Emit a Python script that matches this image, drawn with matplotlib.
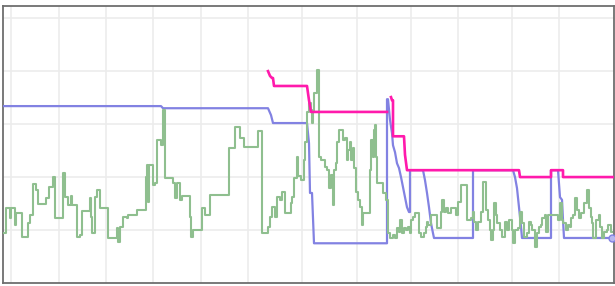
import numpy as np
import matplotlib.pyplot as plt

# green series (step, value holds until next x)
green_x = [4, 6, 10, 11, 15, 16, 22, 28, 30, 33, 36, 38, 46, 49, 53, 55, 63, 65, 68, 71,
           72, 77, 80, 82, 90, 91, 92, 95, 97, 100, 108, 117, 118, 120, 123, 127, 128, 137,
           146, 147, 148, 149, 153, 155, 157, 161, 163, 165, 173, 175, 177, 180, 182, 190,
           191, 193, 202, 205, 210, 229, 235, 240, 244, 258, 262, 268, 270, 272, 275, 277,
           280, 282, 285, 291, 292, 294, 297, 298, 301, 304, 305, 307, 309, 311, 312, 313,
           314, 317, 319, 321, 325, 327, 329, 331, 333, 334, 336, 337, 339, 343, 345, 347,
           348, 350, 351, 353, 354, 356, 358, 360, 362, 363, 370, 371, 373, 374, 375, 376,
           377, 383, 386, 388, 390, 393, 395, 397, 399, 400, 402, 404, 406, 408, 410, 411,
           413, 415, 419, 421, 424, 426, 427, 428, 431, 437, 441, 442, 444, 446, 448, 451,
           456, 458, 461, 467, 471, 473, 474, 476, 478, 481, 483, 486, 488, 490, 491, 493,
           494, 496, 497, 500, 502, 505, 507, 509, 512, 513, 515, 518, 520, 522, 524, 527,
           529, 531, 532, 535, 537, 539, 541, 542, 545, 546, 548, 558, 560, 562, 563, 566,
           568, 570, 571, 573, 575, 577, 579, 581, 584, 587, 589, 591, 592, 593, 596, 599,
           600, 602, 604, 607, 608, 611, 612]
green_v = [9.4, 14.2, 12.3, 14.2, 10.9, 13.2, 8.7, 11.3, 12.8, 18.7, 17.5, 14.9, 16.0, 18.1,
           20.0, 12.3, 20.8, 16.2, 14.7, 16.4, 14.7, 8.7, 9.1, 13.6, 16.0, 12.5, 9.4, 16.2,
           17.5, 14.2, 8.5, 10.4, 7.7, 10.6, 12.5, 12.3, 12.8, 13.8, 20.0, 22.3, 15.3, 22.3,
           18.5, 18.9, 27.0, 26.0, 32.6, 19.8, 18.9, 16.0, 18.9, 15.7, 16.4, 12.5, 8.7, 10.0,
           14.2, 12.8, 16.6, 25.5, 29.4, 27.4, 25.7, 28.7, 9.4, 10.6, 12.5, 14.3, 12.5, 16.2,
           15.7, 17.2, 13.2, 15.1, 16.2, 19.8, 23.8, 20.2, 19.4, 23.2, 26.6, 32.3, 34.0, 32.6,
           30.2, 32.3, 35.8, 40.2, 23.8, 23.2, 21.9, 21.3, 17.9, 20.4, 14.7, 21.3, 22.6, 26.6,
           28.9, 27.0, 27.4, 23.2, 25.1, 26.6, 23.2, 25.5, 21.7, 17.2, 15.7, 14.3, 10.9, 13.2,
           21.3, 27.0, 23.8, 28.9, 29.8, 23.8, 18.9, 17.0, 15.7, 9.4, 8.5, 9.1, 8.5, 10.4, 9.6,
           11.9, 9.4, 10.4, 10.0, 10.6, 9.4, 11.9, 12.5, 13.2, 9.4, 8.7, 9.4, 10.6, 11.5, 10.9,
           12.8, 10.4, 13.4, 15.7, 13.4, 14.2, 13.2, 14.2, 12.8, 15.3, 18.5, 11.9, 12.3, 13.4,
           11.5, 10.0, 11.5, 13.4, 19.1, 13.8, 11.9, 10.0, 8.1, 10.0, 15.1, 12.8, 11.3, 10.0,
           8.7, 11.5, 10.0, 11.9, 10.0, 7.5, 10.0, 10.4, 13.4, 11.3, 8.7, 9.4, 11.5, 10.9, 10.0,
           6.8, 9.4, 10.6, 10.9, 12.3, 12.8, 9.6, 12.8, 11.9, 15.1, 11.9, 11.3, 10.0, 10.9,
           10.6, 12.3, 12.8, 16.0, 13.8, 12.3, 13.2, 15.1, 17.5, 14.2, 12.5, 11.3, 8.5, 11.9,
           12.8, 10.6, 8.5, 9.6, 10.0, 10.9, 9.6, 9.6]

# blue series
blue_x = [3, 161, 163, 268, 271, 273, 307, 309, 310, 312, 314, 387, 387, 388, 390, 392, 393,
          395, 397, 399, 401, 403, 405, 407, 409, 410, 410, 423, 425, 427, 429, 431, 433, 434,
          473, 473, 513, 515, 517, 519, 521, 522, 551, 551, 558, 560, 562, 563, 564, 612]
blue_v = [33.4, 33.4, 33.0, 33.0, 31.7, 30.2, 30.2, 26.4, 17.0, 17.0, 7.5, 7.5, 34.7, 34.7,
          30.8, 28.3, 26.0, 24.7, 22.6, 21.7, 20.0, 18.1, 16.2, 14.3, 13.4, 13.4, 21.3, 21.3,
          19.4, 17.0, 14.3, 11.3, 9.4, 8.5, 8.5, 21.3, 21.3, 20.0, 17.9, 14.3, 10.6, 8.5, 8.5,
          21.3, 21.3, 16.2, 15.7, 11.9, 8.5, 8.5]

# magenta series (gap between the two parts)
pink_x = [268, 270, 272, 273, 274, 307, 309, 311, 387, 389, 391, 392, 393, 393, 404, 405,
          407, 519, 520, 551, 551, 563, 563, 614]
pink_v = [40.0, 39.1, 38.7, 38.7, 37.2, 37.2, 34.5, 32.3, 32.3, np.nan, 35.1, 34.5, 34.5,
          27.7, 27.7, 24.2, 21.3, 21.3, 20.0, 20.0, 21.3, 21.3, 20.0, 20.0]

x_grid = [11, 59, 106, 153, 201, 248, 302, 357, 411, 458, 512, 559]
y_grid = [10, 20, 30, 40, 50]

fig = plt.figure(figsize=(6.15, 2.86), dpi=100)
ax = fig.add_axes([3 / 615, 3 / 286, 611 / 615, 277 / 286])

ax.plot(blue_x, blue_v, color='#8282e2', lw=1.6, zorder=3)
ax.plot(blue_x[-1], blue_v[-1], 'o', ms=5, color='#8282e2', mfc='#b8b8f0', zorder=3, clip_on=True)
ax.step(green_x, green_v, where='post', color='#8fbf8f', lw=1.5, zorder=4)
ax.plot(pink_x, pink_v, color='#ff1aac', lw=1.9, zorder=5)

ax.set_xlim(3, 614)
ax.set_ylim(0, 52.3)
ax.set_xticks(x_grid)
ax.set_yticks(y_grid)
ax.tick_params(length=0, labelbottom=False, labelleft=False)
ax.grid(True, color='#ececec', lw=1.2)
ax.set_axisbelow(True)
for s in ax.spines.values():
    s.set_color('#6e6e6e')
    s.set_linewidth(1.3)

plt.savefig('out.png')
